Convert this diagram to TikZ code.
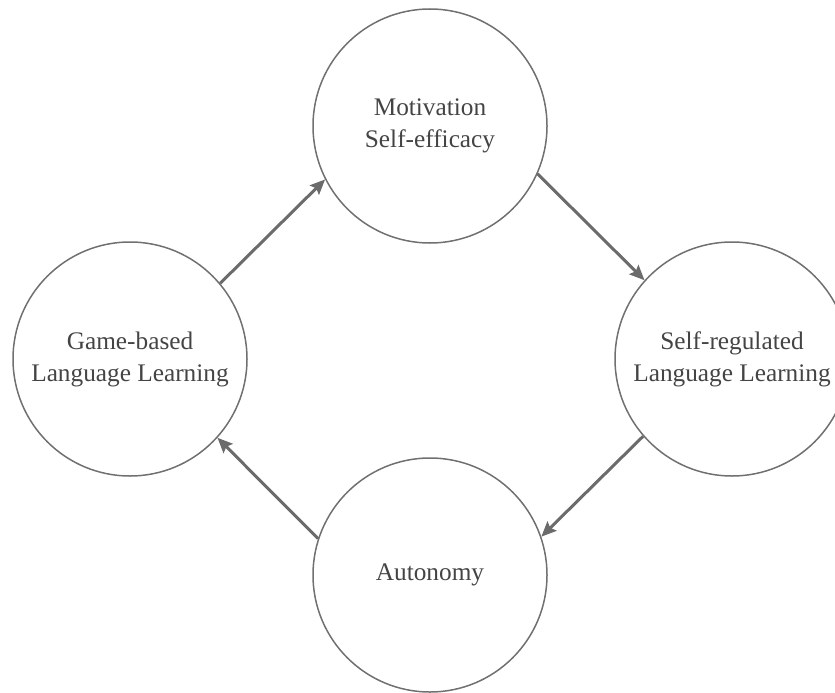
\documentclass[tikz,border=0pt]{standalone}
\usepackage{fontspec}
\setmainfont{Liberation Serif}
\usetikzlibrary{arrows.meta}
\definecolor{ringgray}{HTML}{707070}
\definecolor{arrowgray}{HTML}{6B6B6B}
\definecolor{textgray}{HTML}{444444}
\begin{document}
\begin{tikzpicture}[x=1pt,y=-1pt,
  ring/.style={circle, draw=ringgray, line width=1.5pt, minimum size=234pt, inner sep=0pt,
    text=textgray, align=center, font=\fontsize{25.3}{32}\selectfont},
  flow/.style={draw=arrowgray, line width=3pt, -{Stealth[length=15pt,width=13pt,inset=2.5pt]}}]
\useasboundingbox (0,0) rectangle (835,693);
\node[ring] (T) at (430,126) {Motivation\\Self-efficacy};
\node[ring] (L) at (130,359) {Game-based\\Language Learning};
\node[ring] (R) at (732,359) {Self-regulated\\Language Learning};
\node[ring] (B) at (430,575) {Autonomy};
\draw[flow] (L.40) -- (T.207);
\draw[flow] (T.-24) -- (R.138);
\draw[flow] (R.221) -- (B.19);
\draw[flow] (B.162) -- (L.-42);
\end{tikzpicture}
\end{document}
